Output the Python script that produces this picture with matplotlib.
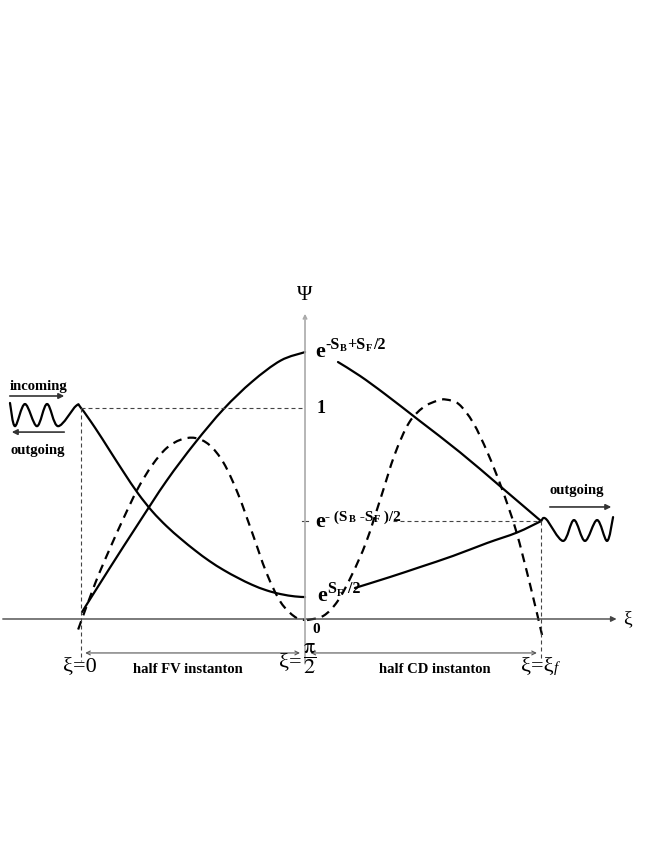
import numpy as np
import matplotlib.pyplot as plt
from matplotlib.path import Path
from matplotlib.patches import PathPatch

plt.rcParams['mathtext.fontset'] = 'stix'
plt.rcParams['font.family'] = ['Liberation Serif', 'DejaVu Serif']

# key levels (xi, Psi)
half_pi = np.pi / 2
xi_f = 3.226
psi_top = 1.265   # e^{-S_B+S_F/2}
psi_mid = 0.464   # e^{-(S_B-S_F)/2}
psi_low = 0.104   # e^{S_F/2}

# left incoming/outgoing wave joined to the falling FV curve
wave_l_x = [-0.498, -0.463, -0.393, -0.309, -0.238, -0.161, -0.035]
wave_l_y = [1.024, 0.914, 1.019, 0.914, 1.019, 0.914, 1.010]
fall_x = [0.0, 0.1, 0.2, 0.3, 0.4, 0.5, 0.6, 0.7, 0.8, 0.9, 1.0, 1.1, 1.2, 1.3, 1.4, 1.5, 1.571]
fall_y = [1.0, 0.905, 0.80, 0.695, 0.595, 0.51, 0.44, 0.38, 0.325, 0.275, 0.232, 0.195,
          0.162, 0.136, 0.118, 0.107, 0.104]

# rising FV curve
rise_x = [0.007, 0.2, 0.4, 0.6, 0.8, 1.0, 1.2, 1.4, 1.571]
rise_y = [0.033, 0.24, 0.45, 0.655, 0.835, 0.995, 1.125, 1.225, 1.265]

# CD side solid curves
cd_hi_x = [1.802, 1.957, 2.132, 2.377, 2.658, 2.938, 3.226]
cd_hi_y = [1.218, 1.152, 1.066, 0.938, 0.79, 0.63, 0.464]
cd_lo_x = [1.921, 2.167, 2.377, 2.609, 2.847, 3.058, 3.226]
cd_lo_y = [0.147, 0.199, 0.246, 0.299, 0.360, 0.410, 0.464]

# right outgoing wave
wave_r_x = [3.226, 3.261, 3.380, 3.457, 3.534, 3.619, 3.689, 3.731]
wave_r_y = [0.464, 0.474, 0.370, 0.469, 0.370, 0.469, 0.370, 0.483]

# dashed curves
dash1_x = [-0.02, 0.1, 0.2, 0.3, 0.4, 0.5, 0.6, 0.7, 0.8, 0.9, 1.0, 1.1, 1.2, 1.3,
           1.4, 1.5, 1.571]
dash1_y = [-0.05, 0.17, 0.33, 0.48, 0.62, 0.73, 0.81, 0.85, 0.858, 0.825, 0.74, 0.595,
           0.41, 0.22, 0.08, 0.01, -0.005]
dash2_x = [1.585, 1.7, 1.8, 1.9, 2.0, 2.1, 2.2, 2.3, 2.4, 2.5, 2.56, 2.65, 2.75, 2.85,
           2.95, 3.05, 3.15, 3.233]
dash2_y = [-0.005, 0.015, 0.085, 0.21, 0.365, 0.57, 0.78, 0.93, 1.003, 1.035, 1.04,
           1.018, 0.93, 0.79, 0.62, 0.42, 0.16, -0.076]

# text pieces: (string, size pt, rise pt)
lab_top = [('e', 16, 0), ('-S', 11.5, 5.5), ('B', 7.5, 4.3), ('+S', 11.5, 5.5),
           ('F', 7.5, 4.3), ('/2', 11.5, 5.5)]
lab_mid = [('e', 16, 0), ('- (S', 11, 5.0), ('B', 7.5, 3.8), (' -S', 11, 5.0),
           ('F', 7.5, 3.8), (' )/2', 11, 5.0)]
lab_low = [('e', 16, 0), ('S', 11.5, 5.5), ('F', 7.5, 4.3), (' /2', 11.5, 5.5)]


def smooth(xs, ys):
    # catmull-rom through the read points, drawn as bezier segments
    p = np.column_stack([xs, ys])
    n = len(p)
    verts = [p[0]]
    codes = [Path.MOVETO]
    for i in range(n - 1):
        p0 = p[i - 1] if i > 0 else p[i]
        p3 = p[i + 2] if i + 2 < n else p[i + 1]
        verts += [p[i] + (p[i + 1] - p0) / 6, p[i + 1] - (p3 - p[i]) / 6, p[i + 1]]
        codes += [Path.CURVE4] * 3
    return Path(verts, codes)


def chain(x, y, parts):
    # bold "e" with hand-built super/subscripts, baselines in points
    s0, size0, rise0 = parts[0]
    prev = ax.text(x, y, s0, fontsize=size0, fontweight='bold', va='baseline')
    psize, prise = size0, rise0
    for s, size, rise in parts[1:]:
        dy = 0.217 * (psize - size) + (rise - prise)
        prev = ax.annotate(s, xy=(1, 0), xycoords=prev, xytext=(0.4, dy),
                           textcoords='offset points', fontsize=size,
                           fontweight='bold', va='bottom', ha='left')
        psize, prise = size, rise


fig = plt.figure(figsize=(6.54, 8.46), dpi=100)
ax = fig.add_axes([0, 0, 1, 1])
ax.set_xlim(-0.568, 4.018)
ax.set_ylim(-1.076, 2.934)
ax.axis('off')

solid = dict(fill=False, ec='black', lw=1.6, capstyle='round', joinstyle='round')
dashed = dict(fill=False, ec='black', lw=1.6, ls=(0, (4.0, 2.8)))

ax.add_patch(PathPatch(smooth(wave_l_x + fall_x, wave_l_y + fall_y), **solid))
ax.add_patch(PathPatch(smooth(rise_x, rise_y), **solid))
ax.add_patch(PathPatch(smooth(cd_hi_x, cd_hi_y), **solid))
ax.add_patch(PathPatch(smooth(cd_lo_x, cd_lo_y), **solid))
ax.add_patch(PathPatch(smooth(wave_r_x, wave_r_y), **solid))
ax.add_patch(PathPatch(smooth(dash1_x, dash1_y), **dashed))
ax.add_patch(PathPatch(smooth(dash2_x, dash2_y), **dashed))

# axes
ax.annotate('', xy=(3.775, 0), xytext=(-0.568, 0),
            arrowprops=dict(arrowstyle='-|>', color='#444', lw=1.0, mutation_scale=8))
ax.annotate('', xy=(half_pi, 1.46), xytext=(half_pi, -0.225),
            arrowprops=dict(arrowstyle='->', color='#aaa', lw=1.2, mutation_scale=6))
ax.text(3.83, 0, 'ξ', fontsize=14, ha='center', va='center')
ax.text(half_pi, 1.531, 'Ψ', fontsize=15, ha='center', va='center')

# guide lines
guide = dict(color='#444', lw=0.8, ls=(0, (3.6, 2.7)))
ax.plot([0, half_pi], [1, 1], **guide)
ax.plot([0, 0], [1, -0.20], **guide)
ax.plot([2.19, xi_f], [psi_mid, psi_mid], **guide)
ax.plot([1.55, 1.59], [psi_mid, psi_mid], color='#444', lw=0.8)
ax.plot([xi_f, xi_f], [psi_mid, -0.19], **guide)

# level labels
chain(1.641, 1.242, lab_top)
chain(1.641, 0.436, lab_mid)
chain(1.655, 0.085, lab_low)
ax.text(1.648, 0.976, '1', fontsize=13, fontweight='bold', ha='left', va='baseline')
ax.text(1.648, -0.052, '0', fontsize=11, fontweight='bold', ha='center', va='center')

# incoming / outgoing
arr = dict(arrowstyle='-|>', color='#333', lw=1.2, mutation_scale=8)
ax.annotate('', xy=(-0.098, 1.057), xytext=(-0.519, 1.057), arrowprops=arr)
ax.annotate('', xy=(-0.505, 0.886), xytext=(-0.098, 0.886), arrowprops=arr)
ax.annotate('', xy=(3.738, 0.531), xytext=(3.268, 0.531), arrowprops=arr)
ax.text(-0.30, 1.10, 'incoming', fontsize=10.5, fontweight='bold', ha='center', va='center')
ax.text(-0.30, 0.80, 'outgoing', fontsize=10.5, fontweight='bold', ha='center', va='center')
ax.text(3.478, 0.61, 'outgoing', fontsize=10.5, fontweight='bold', ha='center', va='center')

# instanton spans
span = dict(arrowstyle='<->', color='#555', lw=0.8, mutation_scale=7)
ax.annotate('', xy=(1.555, -0.161), xytext=(0.01, -0.161), arrowprops=span)
ax.annotate('', xy=(xi_f - 0.01, -0.161), xytext=(1.59, -0.161), arrowprops=span)
ax.text(0.750, -0.256, 'half FV instanton', fontsize=10.5, fontweight='bold', ha='center', va='baseline')
ax.text(2.479, -0.256, 'half CD instanton', fontsize=10.5, fontweight='bold', ha='center', va='baseline')
ax.text(-0.01, -0.225, 'ξ=0', fontsize=16, ha='center', va='center')
t = ax.text(1.545, -0.205, 'ξ=', fontsize=16, ha='right', va='center')
ax.annotate(r'$\dfrac{\mathrm{\pi}}{2}$', xy=(1, 0.5), xycoords=t, xytext=(1, 3),
            textcoords='offset points', fontsize=16, ha='left', va='center')
t = ax.text(3.20, -0.225, 'ξ=ξ', fontsize=16, ha='center', va='center')
ax.annotate('f', xy=(1, 0), xycoords=t, xytext=(0, 1), textcoords='offset points',
            fontsize=11, style='italic', ha='left', va='bottom')

fig.savefig('out.png', dpi=100)
